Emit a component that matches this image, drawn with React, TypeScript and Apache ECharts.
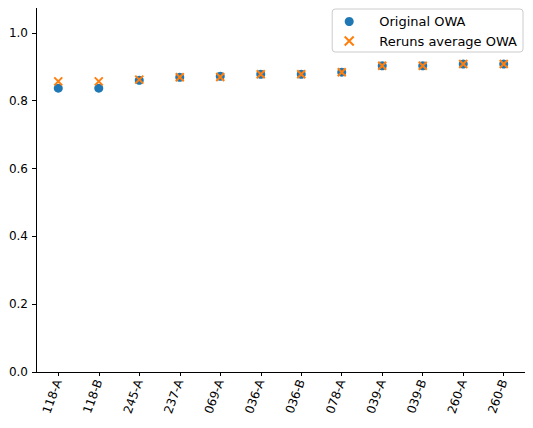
import React, { useEffect, useRef } from "react";
import * as echarts from "echarts";

const categories = ["118-A", "118-B", "245-A", "237-A", "069-A", "036-A", "036-B", "078-A", "039-A", "039-B", "260-A", "260-B"];
const originalOwa = [0.837, 0.837, 0.86, 0.869, 0.872, 0.878, 0.878, 0.884, 0.903, 0.903, 0.908, 0.908];
const rerunsOwa = [0.857, 0.857, 0.862, 0.869, 0.87, 0.878, 0.878, 0.884, 0.903, 0.903, 0.908, 0.908];
const yTicks = [0, 0.2, 0.4, 0.6, 0.8, 1.0];

const cross = "path://M0,0L10,10M10,0L0,10";

const App: React.FC = () => {
  const chartRef = useRef<HTMLDivElement>(null);

  useEffect(() => {
    if (!chartRef.current) return;
    const chart = echarts.init(chartRef.current, undefined, { renderer: "svg" });
    const idx = categories.map((_, i) => i);
    const frameAxis = {
      type: "value",
      min: 0,
      max: 1,
      axisLine: { show: true, onZero: false, lineStyle: { color: "#000" } },
      axisTick: { show: false },
      axisLabel: { show: false },
      splitLine: { show: false },
    };
    chart.setOption({
      animation: false,
      textStyle: { fontFamily: "DejaVu Sans" },
      grid: { left: 36, right: 7, top: 2, bottom: 56 },
      legend: {
        right: 10,
        top: 9,
        orient: "vertical",
        backgroundColor: "rgba(255,255,255,0.8)",
        borderColor: "#ccc",
        borderWidth: 1,
        borderRadius: 3,
        padding: [6, 6, 4, 10],
        itemGap: 6,
        itemWidth: 10,
        itemHeight: 9,
        textStyle: { fontSize: 13, color: "#000", padding: [0, 0, 0, 20] },
        data: [
          { name: "Original OWA", icon: "circle" },
          { name: "Reruns average OWA", icon: cross, itemStyle: { color: "none", borderColor: "#ff7f0e", borderWidth: 2 } },
        ],
      },
      xAxis: [
        {
          type: "value",
          min: -0.55,
          max: 11.55,
          splitLine: { show: false },
          axisLine: { onZero: false, lineStyle: { color: "#000" } },
          axisTick: { show: true, customValues: idx, length: 4, lineStyle: { color: "#000" } },
          axisLabel: {
            customValues: idx,
            rotate: 70,
            color: "#000",
            fontSize: 12,
            formatter: (v: number) => categories[Math.round(v)],
          },
        },
        { ...frameAxis, position: "top" },
      ],
      yAxis: [
        {
          type: "value",
          min: 0,
          max: 1.091,
          splitLine: { show: false },
          axisLine: { show: true, onZero: false, lineStyle: { color: "#000" } },
          axisTick: { show: true, customValues: yTicks, length: 4, lineStyle: { color: "#000" } },
          axisLabel: { customValues: yTicks, color: "#000", fontSize: 12, formatter: (v: number) => v.toFixed(1) },
        },
        { ...frameAxis, position: "right" },
      ],
      series: [
        {
          name: "Original OWA",
          type: "scatter",
          symbol: "circle",
          symbolSize: 9,
          itemStyle: { color: "#1f77b4", opacity: 1 },
          data: originalOwa.map((v, i) => [i, v]),
        },
        {
          name: "Reruns average OWA",
          type: "scatter",
          symbol: cross,
          symbolSize: 8,
          itemStyle: { color: "none", borderColor: "#ff7f0e", borderWidth: 2, opacity: 1 },
          data: rerunsOwa.map((v, i) => [i, v]),
        },
      ],
    });
    return () => chart.dispose();
  }, []);

  return <div ref={chartRef} style={{ width: 533, height: 428, margin: -8 }} />;
};

export default App;
